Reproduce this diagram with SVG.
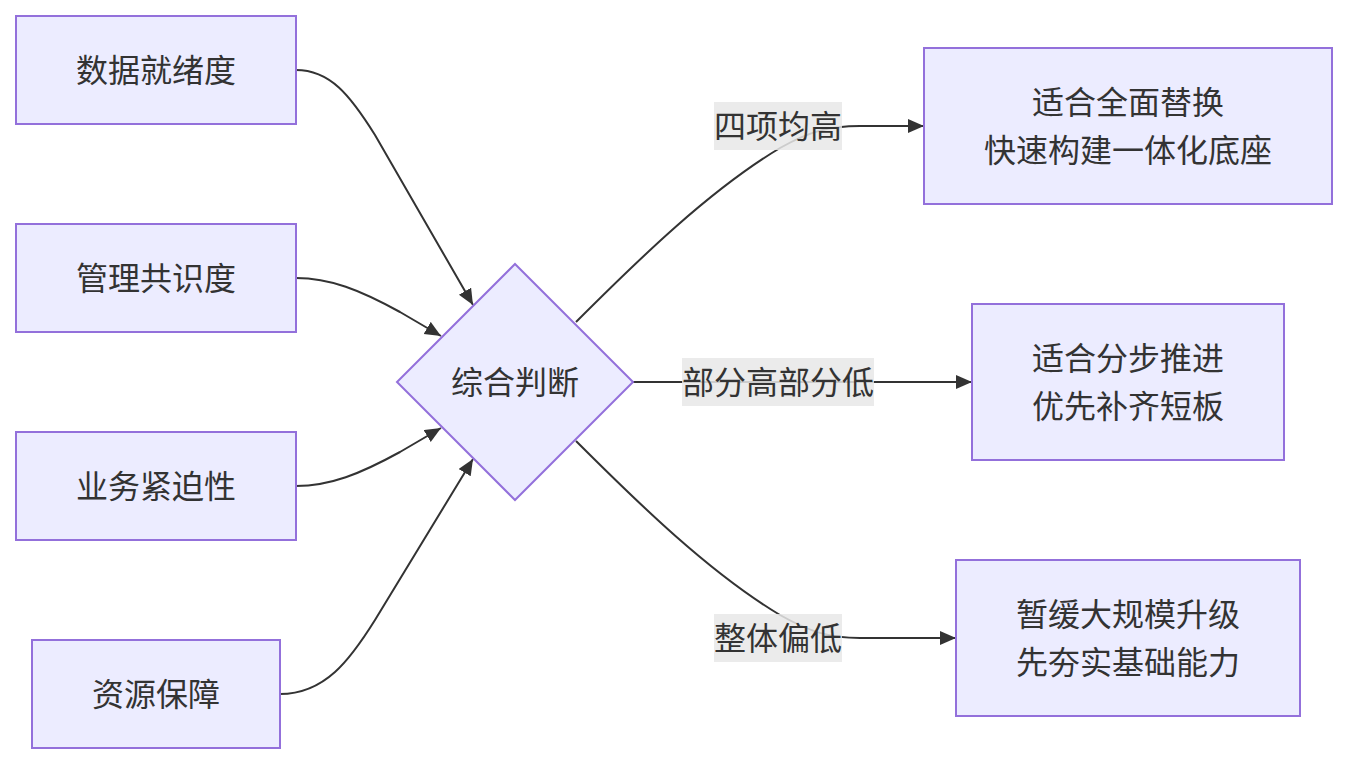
<svg xmlns="http://www.w3.org/2000/svg" width="1348" height="764" viewBox="0 0 1348 764">
<style>
.node rect, .node polygon { fill: #ECECFF; stroke: #9370DB; stroke-width: 2; }
.t { font-family: "Noto Sans CJK SC", "Noto Sans", sans-serif; font-size: 32px; fill: #333333; text-anchor: middle; dominant-baseline: central; }
.edge { fill: none; stroke: #333333; stroke-width: 2; }
.lblbg { fill: #e8e8e8; opacity: 0.85; }
</style>
<defs>
<marker id="arr" markerUnits="userSpaceOnUse" markerWidth="18" markerHeight="16" refX="16" refY="7" orient="auto" viewBox="0 0 18 16">
<path d="M0,0 L16,7 L0,14 z" fill="#333333"/>
</marker>
</defs>
<rect width="1348" height="764" fill="#ffffff"/>
<g id="connectors">
<path class="edge" marker-end="url(#arr)" d="M296,70 C330,70 350,95 375,135 L473,305"/>
<path class="edge" marker-end="url(#arr)" d="M296,278 C330,278 360,290 400,312 L441,336"/>
<path class="edge" marker-end="url(#arr)" d="M296,486 C330,486 360,474 400,452 L441,428"/>
<path class="edge" marker-end="url(#arr)" d="M280,694 C325,694 350,660 375,620 L473,459"/>
<path class="edge" marker-end="url(#arr)" d="M576,322 C640,258 710,190 780,148 C810,131 830,126 860,126 L924,126"/>
<path class="edge" marker-end="url(#arr)" d="M633,382 L972,382"/>
<path class="edge" marker-end="url(#arr)" d="M576,441 C640,505 710,573 780,615 C810,632 830,638 860,638 L956,638"/>
</g>
<g id="edge-labels">
<g id="lbl1"><rect class="lblbg" x="714" y="102" width="128" height="48"/><text class="t" x="778" y="124">四项均高</text></g>
<g id="lbl2"><rect class="lblbg" x="682" y="358" width="192" height="48"/><text class="t" x="778" y="380">部分高部分低</text></g>
<g id="lbl3"><rect class="lblbg" x="714" y="614" width="128" height="48"/><text class="t" x="778" y="636">整体偏低</text></g>
</g>
<g id="n1" class="node"><rect x="16" y="16" width="280" height="108"/><text class="t" x="156" y="68">数据就绪度</text></g>
<g id="n2" class="node"><rect x="16" y="224" width="280" height="108"/><text class="t" x="156" y="276">管理共识度</text></g>
<g id="n3" class="node"><rect x="16" y="432" width="280" height="108"/><text class="t" x="156" y="484">业务紧迫性</text></g>
<g id="n4" class="node"><rect x="32" y="640" width="248" height="108"/><text class="t" x="156" y="692">资源保障</text></g>
<g id="judge" class="node"><polygon points="515,264 633,382 515,500 397,382"/><text class="t" x="515" y="380">综合判断</text></g>
<g id="r1" class="node"><rect x="924" y="48" width="408" height="156"/><text class="t" x="1128" y="100">适合全面替换</text><text class="t" x="1128" y="148">快速构建一体化底座</text></g>
<g id="r2" class="node"><rect x="972" y="304" width="312" height="156"/><text class="t" x="1128" y="356">适合分步推进</text><text class="t" x="1128" y="404">优先补齐短板</text></g>
<g id="r3" class="node"><rect x="956" y="560" width="344" height="156"/><text class="t" x="1128" y="612">暂缓大规模升级</text><text class="t" x="1128" y="660">先夯实基础能力</text></g>
</svg>
